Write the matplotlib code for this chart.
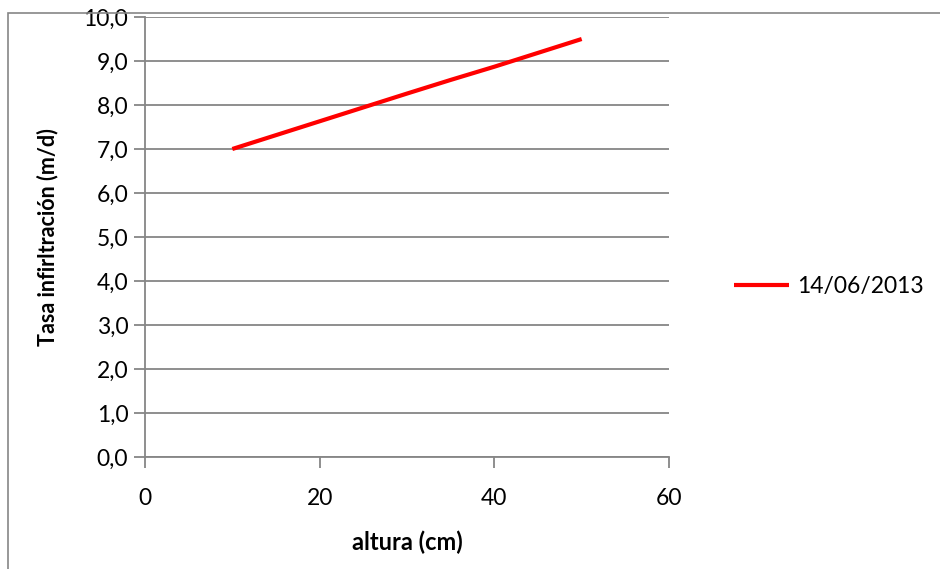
import matplotlib.pyplot as plt
from matplotlib.patches import Rectangle

plt.rcParams['font.family'] = ['Lato', 'DejaVu Sans']

altura = [10, 20, 30, 35, 40, 50]
tasa = [7.0, 7.63, 8.26, 8.57, 8.87, 9.5]
serie = '14/06/2013'
yticks = [0, 1, 2, 3, 4, 5, 6, 7, 8, 9, 10]
xticks = [0, 20, 40, 60]

W, H = 940, 569
fig = plt.figure(figsize=(W / 100, H / 100), dpi=100)
ax = fig.add_axes([145 / W, 1 - 457 / H, (669 - 145) / W, (457 - 17) / H])

grey = '#868686'

# outer chart border
fig.patches.append(Rectangle((8 / W, -0.05), 1.2, 1 - 13 / H + 0.05,
                             transform=fig.transFigure, fill=False,
                             edgecolor=grey, linewidth=1.2, zorder=0))

ax.plot(altura, tasa, color='#ff0000', linewidth=3, label=serie,
        solid_capstyle='butt', zorder=3)

ax.set_xlim(0, 60)
ax.set_ylim(0, 10)
ax.set_xticks(xticks)
ax.set_yticks(yticks)
ax.set_yticklabels([('%.1f' % v).replace('.', ',') for v in yticks])
ax.yaxis.grid(True, color=grey, linewidth=1.3)
ax.set_axisbelow(True)

for s in ['top', 'right']:
    ax.spines[s].set_visible(False)
for s in ['left', 'bottom']:
    ax.spines[s].set_color(grey)
    ax.spines[s].set_linewidth(1.3)

ax.tick_params(axis='both', colors=grey, length=8, width=1.3,
               labelcolor='black', labelsize=16.5)
ax.tick_params(axis='y', pad=4)
ax.tick_params(axis='x', pad=14)

ax.set_xlabel('altura (cm)', fontsize=17, fontweight='bold', labelpad=16)
ax.set_ylabel('Tasa infirltración (m/d)', fontsize=15.5, fontweight='bold',
              labelpad=18)

ax.legend(loc='center left', bbox_to_anchor=(1.085, 0.387), frameon=False,
          fontsize=16.5, handlelength=2.4, handletextpad=0.35)

fig.savefig('out.png', dpi=100)
